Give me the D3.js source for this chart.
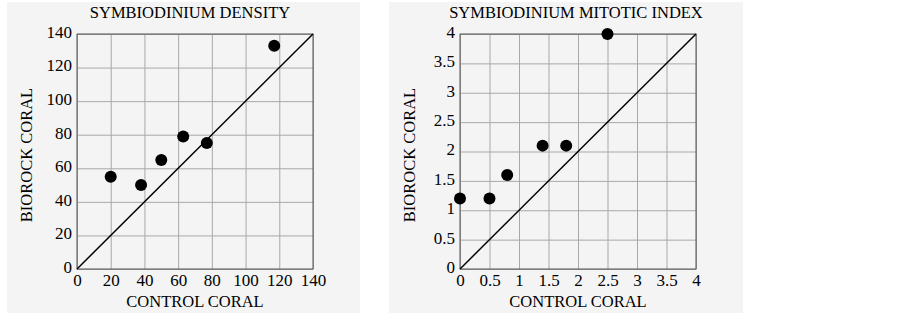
<!DOCTYPE html>
<html>
<head>
<meta charset="utf-8">
<script src="https://cdn.jsdelivr.net/npm/d3@7"></script>
<style>
  body { margin: 0; background: #fff; }
  svg { display: block; font-family: "Liberation Serif", "Times New Roman", serif; }
</style>
</head>
<body>
<svg id="chart" width="903" height="315"></svg>
<script>
// density panel
const densityControl = [20, 38, 50, 63, 77, 117];
const densityBiorock = [55, 50, 65, 79, 75, 133];
const densityTicks = [0, 20, 40, 60, 80, 100, 120, 140];

// mitotic index panel
const mitoticControl = [0, 0.5, 0.8, 1.4, 1.8, 2.5];
const mitoticBiorock = [1.2, 1.2, 1.6, 2.1, 2.1, 4.0];
const mitoticTicks = [0, 0.5, 1, 1.5, 2, 2.5, 3, 3.5, 4];

const svg = d3.select("#chart");

function drawPanel(opt) {
  const g = svg.append("g");

  // panel background
  g.append("rect")
    .attr("x", opt.bx).attr("y", 2)
    .attr("width", opt.bw).attr("height", 311)
    .attr("fill", "#f4f4f4");

  const x = d3.scaleLinear().domain(opt.domain).range([opt.left, opt.left + 236]);
  const y = d3.scaleLinear().domain(opt.domain).range([269, 34]);

  // grid
  g.append("g")
    .attr("transform", `translate(0,269)`)
    .call(d3.axisBottom(x).tickValues(opt.ticks).tickSize(-235).tickFormat(""))
    .call(a => a.select(".domain").remove())
    .call(a => a.selectAll("line").attr("stroke", "#a8a8a8"));
  g.append("g")
    .attr("transform", `translate(${opt.left},0)`)
    .call(d3.axisLeft(y).tickValues(opt.ticks).tickSize(-236).tickFormat(""))
    .call(a => a.select(".domain").remove())
    .call(a => a.selectAll("line").attr("stroke", "#a8a8a8"));

  // frame
  g.append("rect")
    .attr("x", x(opt.domain[0])).attr("y", y(opt.domain[1]))
    .attr("width", x(opt.domain[1]) - x(opt.domain[0]))
    .attr("height", y(opt.domain[0]) - y(opt.domain[1]))
    .attr("fill", "none").attr("stroke", "#555");

  // tick labels
  g.append("g")
    .attr("transform", `translate(0,269)`)
    .call(d3.axisBottom(x).tickValues(opt.ticks).tickSize(0).tickPadding(5).tickFormat(d => String(d)))
    .call(a => a.select(".domain").remove())
    .call(a => a.selectAll("text").attr("font-size", 17).attr("font-family", "Liberation Serif").attr("fill", "#000"));
  g.append("g")
    .attr("transform", `translate(${opt.left},0)`)
    .call(d3.axisLeft(y).tickValues(opt.ticks).tickSize(0).tickPadding(5).tickFormat(d => String(d)))
    .call(a => a.select(".domain").remove())
    .call(a => a.selectAll("text").attr("font-size", 17).attr("font-family", "Liberation Serif")
      .attr("dy", "0.2em").attr("fill", "#000"));

  // identity line
  g.append("line")
    .attr("x1", x(opt.domain[0])).attr("y1", y(opt.domain[0]))
    .attr("x2", x(opt.domain[1])).attr("y2", y(opt.domain[1]))
    .attr("stroke", "#000").attr("stroke-width", 1.5);

  // points
  g.selectAll(".pt")
    .data(opt.xs.map((v, i) => [v, opt.ys[i]]))
    .enter()
    .append("circle")
    .attr("class", "pt")
    .attr("cx", d => x(d[0]))
    .attr("cy", d => y(d[1]))
    .attr("r", 6)
    .attr("fill", "#000");

  // titles
  g.append("text")
    .attr("x", opt.titleX).attr("y", 18)
    .attr("text-anchor", "middle").attr("font-size", 16.5)
    .text(opt.title);
  g.append("text")
    .attr("x", opt.left + 118).attr("y", 307)
    .attr("text-anchor", "middle").attr("font-size", 16.5)
    .text("CONTROL CORAL");
  g.append("text")
    .attr("transform", `translate(${opt.left - 45},155) rotate(-90)`)
    .attr("text-anchor", "middle").attr("font-size", 16.5)
    .text("BIOROCK CORAL");
}

drawPanel({
  bx: 7, bw: 353, left: 77, domain: [0, 140], ticks: densityTicks,
  xs: densityControl, ys: densityBiorock,
  title: "SYMBIODINIUM DENSITY", titleX: 190
});

drawPanel({
  bx: 389, bw: 354, left: 460, domain: [0, 4], ticks: mitoticTicks,
  xs: mitoticControl, ys: mitoticBiorock,
  title: "SYMBIODINIUM MITOTIC INDEX", titleX: 576
});
</script>
</body>
</html>
